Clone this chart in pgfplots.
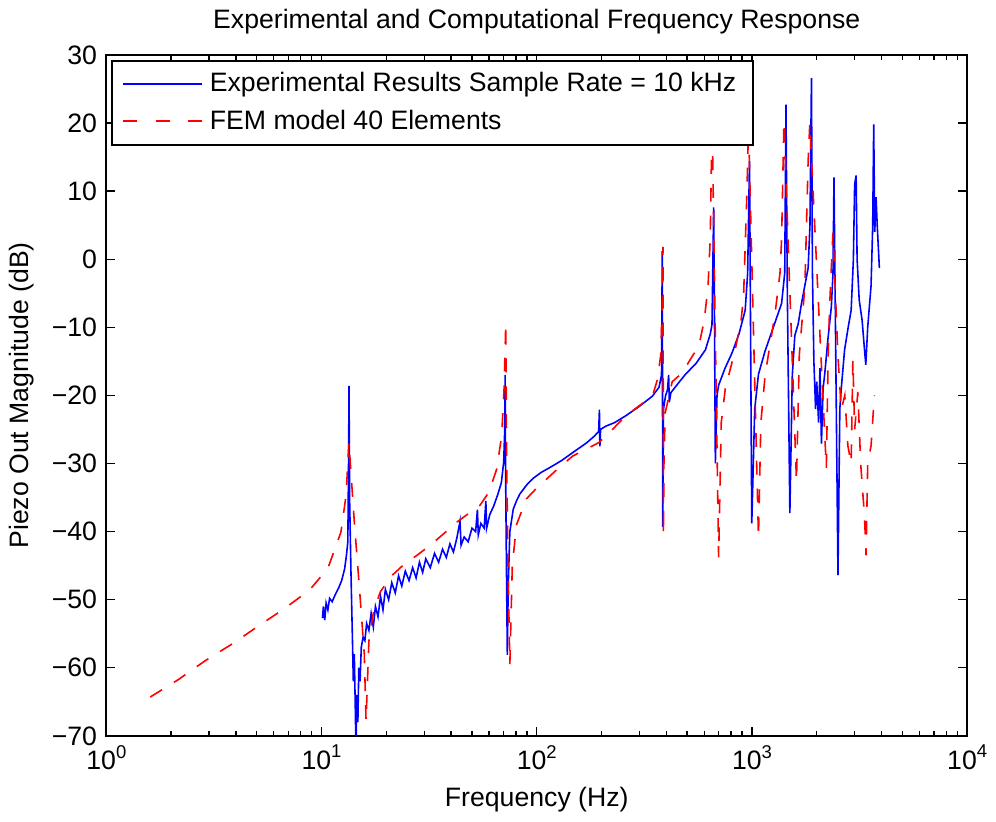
\documentclass[border=0pt]{standalone}
\usepackage{fontspec}
\setmainfont{Liberation Sans}
\usepackage{pgfplots}
\pgfplotsset{compat=1.18}
\newcommand{\dec}[1]{10\raisebox{0.42em}{\fontsize{9.3}{10}\selectfont #1}}

\begin{document}
\fontsize{13.4}{16}\selectfont
\begin{tikzpicture}
\begin{axis}[
  scale only axis, width=433pt, height=342.5pt,
  xmode=log, xmin=1, xmax=10000, ymin=-70, ymax=30,
  xtick={1,10,100,1000,10000},
  xticklabels={\dec{0},\dec{1},\dec{2},\dec{3},\dec{4}},
  minor xtick={2,3,4,5,6,7,8,9,20,30,40,50,60,70,80,90,200,300,400,500,600,700,800,900,2000,3000,4000,5000,6000,7000,8000,9000},
  ytick={-70,-60,-50,-40,-30,-20,-10,0,10,20,30},
  yticklabels={−70,−60,−50,−40,−30,−20,−10,0,10,20,30},
  tick align=inside, major tick length=4.5pt, minor tick length=2.5pt,
  every tick/.style={black, line width=0.7pt},
  axis line style={line width=1pt},
  title={Experimental and Computational Frequency Response},
  xlabel={Frequency (Hz)}, ylabel={Piezo Out Magnitude (dB)},
  legend cell align=left,
  legend style={at={(0.006,0.993)}, anchor=north west, draw=black, line width=1pt,
    fill=white, inner xsep=5pt, inner ysep=2.5pt, nodes={inner sep=3.5pt}},
]
\addplot[blue, line width=0.8pt,
  legend image code/.code={\draw[draw=blue, line width=0.8pt] (0pt,0pt) -- (39.5pt,0pt);}]
  table[row sep=\\] {
10.1 -52.7\\ 10.2 -51.0\\ 10.35 -53.0\\ 10.5 -50.5\\ 10.7 -51.5\\ 10.9 -49.8\\
11.2 -50.3\\ 11.6 -49.2\\ 12.0 -48.3\\ 12.4 -47.2\\ 12.8 -45.5\\ 13.05 -43.5\\
13.25 -41.5\\ 13.35 -30\\ 13.42 -18.6\\ 13.5 -35\\ 13.7 -46\\ 13.9 -55\\
14.05 -62\\ 14.2 -58\\ 14.35 -66\\ 14.45 -72\\ 14.6 -64\\ 14.75 -68\\ 14.9 -60\\
15.1 -62\\ 15.3 -57\\ 15.6 -55.5\\ 15.9 -56\\ 16.2 -53.5\\ 16.6 -54.5\\ 17.0 -52\\
17.4 -54\\ 17.8 -51\\ 18.3 -52.5\\ 18.8 -49.5\\ 19.3 -51.5\\ 19.8 -48.5\\ 20.5 -50\\
21.2 -47.5\\ 22 -49\\ 22.8 -46.5\\ 23.6 -48\\ 24.5 -45.8\\ 25.5 -47.2\\ 26.5 -45.3\\
27.5 -46.8\\ 28.5 -44.5\\ 29.5 -46\\ 30.5 -44\\ 32 -45.3\\ 33.5 -43.2\\ 35 -44.5\\
36.5 -42.6\\ 38 -43.8\\ 39.5 -41.8\\ 41 -43\\ 42.5 -41\\ 44 -38.5\\ 44.5 -42\\
46 -40.8\\ 48 -41.5\\ 50 -39.5\\ 52 -40\\ 53 -36.8\\ 53.5 -40.5\\ 55 -38.8\\ 57 -39.5\\
58 -35.5\\ 58.5 -39.5\\ 60.5 -37.5\\ 63 -36.3\\ 66 -34.5\\ 68.5 -32.8\\ 70.2 -29.8\\
71.0 -25\\ 71.3 -17.0\\ 71.6 -30\\ 72.3 -45\\ 73.0 -58.1\\ 73.7 -48\\ 75 -40\\
77.8 -36.7\\ 80.5 -35.5\\ 83.4 -34.5\\ 89.5 -33.2\\ 96 -32.2\\ 105 -31.3\\ 115 -30.6\\
130 -29.6\\ 150 -28.2\\ 170 -27\\ 185 -26\\ 194 -25.3\\ 195.5 -22.1\\ 196.5 -27.5\\
198 -25\\ 210 -24.5\\ 230 -24\\ 259 -23\\ 300 -21.6\\ 345 -20.1\\ 370 -18.8\\ 380 -17\\
383 1.2\\ 385 -39.3\\ 388 -22\\ 397 -20\\ 405 -19.2\\ 410 -17\\ 413 -21\\ 420 -19.6\\
455 -18.2\\ 491 -16.9\\ 550 -15.3\\ 608 -13.3\\ 640 -11\\ 652 -9.6\\ 664 7.6\\ 670 -10\\
676 -30\\ 688 -20\\ 700 -18.5\\ 750 -16\\ 807 -13.8\\ 870 -11\\ 930 -7.5\\ 955 -2\\
974 14.4\\ 985 -10\\ 998 -38.8\\ 1030 -22\\ 1072 -16.9\\ 1150 -13.5\\ 1235 -10.7\\
1373 -6.5\\ 1420 -2\\ 1439 22.7\\ 1460 -5\\ 1500 -37.3\\ 1540 -17\\ 1582 -11.2\\
1640 -9.5\\ 1699 -6.5\\ 1770 -3.5\\ 1824 -1.3\\ 1860 5\\ 1890 26.6\\ 1910 -2\\
1940 -15\\ 1975 -22\\ 2000 -18\\ 2040 -24\\ 2070 -16\\ 2103 -27.1\\ 2140 -19\\
2178 -16.9\\ 2250 -12\\ 2338 -7\\ 2380 -2\\ 2405 12.0\\ 2440 -8\\ 2510 -46.4\\
2560 -22\\ 2600 -19\\ 2694 -13.3\\ 2800 -10\\ 2890 -7.5\\ 2960 0\\ 3000 11\\
3048 12.3\\ 3080 0\\ 3150 -6\\ 3250 -9\\ 3334 -13.3\\ 3380 -15.5\\ 3450 -10\\
3576 -3.9\\ 3640 5\\ 3679 19.8\\ 3720 4\\ 3773 9.1\\ 3820 5\\ 3909 -1.3\\
};
\addlegendentry{Experimental Results Sample Rate = 10 kHz}
\addplot[red, line width=0.8pt, dash pattern=on 7pt off 7pt,
  legend image code/.code={\draw[draw=red, line width=1pt, dash pattern=on 7pt off 9.2pt] (0pt,0pt) -- (39.5pt,0pt);}]
  table[row sep=\\] {
1.6 -64.3\\ 2.17 -61.7\\ 2.87 -59.0\\ 3.89 -56.4\\ 5.07 -53.9\\ 6.73 -51.3\\
8.79 -48.6\\ 10.7 -45.4\\ 12.3 -40.1\\ 13.0 -34.7\\ 13.4 -26.9\\ 14.2 -38.6\\
15.0 -48.3\\ 15.8 -58\\ 16.1 -67.8\\ 16.6 -56.1\\ 17.5 -51.5\\ 18.8 -48.8\\
21 -46.6\\ 24 -44.9\\ 28 -43.4\\ 32 -42\\ 37 -40.3\\ 42.6 -38.6\\ 48 -37.4\\
54.6 -36.1\\ 60 -34.2\\ 65.2 -30.8\\ 68.7 -25.9\\ 70.5 -19\\ 71.2 -13.8\\ 71.8 -9.4\\
72.5 -30\\ 73.5 -45\\ 75 -59.5\\ 77 -45\\ 80.5 -39\\ 89.5 -35.2\\ 100 -33.6\\
111 -32.3\\ 125 -30.8\\ 147 -28.9\\ 170 -27.9\\ 195 -26.9\\ 225 -25\\ 259 -23\\
300 -21.5\\ 345 -20.1\\ 365 -17.5\\ 377 -14\\ 384 -5\\ 386 1.8\\ 388 -40.5\\
390 -30\\ 395 -22.6\\ 426 -18\\ 474 -16.7\\ 527 -14.3\\ 566 -12.8\\ 600 -9\\
625 -4\\ 640 3\\ 648 14.4\\ 652 22\\ 700 -43.8\\ 720 -24\\ 752 -19\\ 836 -13.3\\
890 -9\\ 914 -5.5\\ 946 9.1\\ 964 19.5\\ 1072 -40.9\\ 1100 -24\\ 1151 -17\\
1280 -8\\ 1350 -2\\ 1373 2.9\\ 1408 20.2\\ 1610 -32.6\\ 1660 -14\\ 1762 -3.9\\
1824 14.4\\ 1857 20\\ 2216 -30.7\\ 2260 -14\\ 2298 -6.5\\ 2378 3.9\\ 2510 -14.3\\
2600 -22.1\\ 2700 -20\\ 2790 -27.4\\ 2890 -30\\ 2944 -14.8\\ 3000 -25\\ 3105 -19.5\\
3200 -30\\ 3334 -37.8\\ 3390 -43.5\\ 3450 -30\\ 3576 -27.4\\ 3705 -20\\
};
\addlegendentry{FEM model 40 Elements}
\end{axis}
\path ([shift={(-52pt,-41pt)}]current axis.south west) rectangle ([shift={(13pt,25pt)}]current axis.north east);
\end{tikzpicture}
\end{document}
